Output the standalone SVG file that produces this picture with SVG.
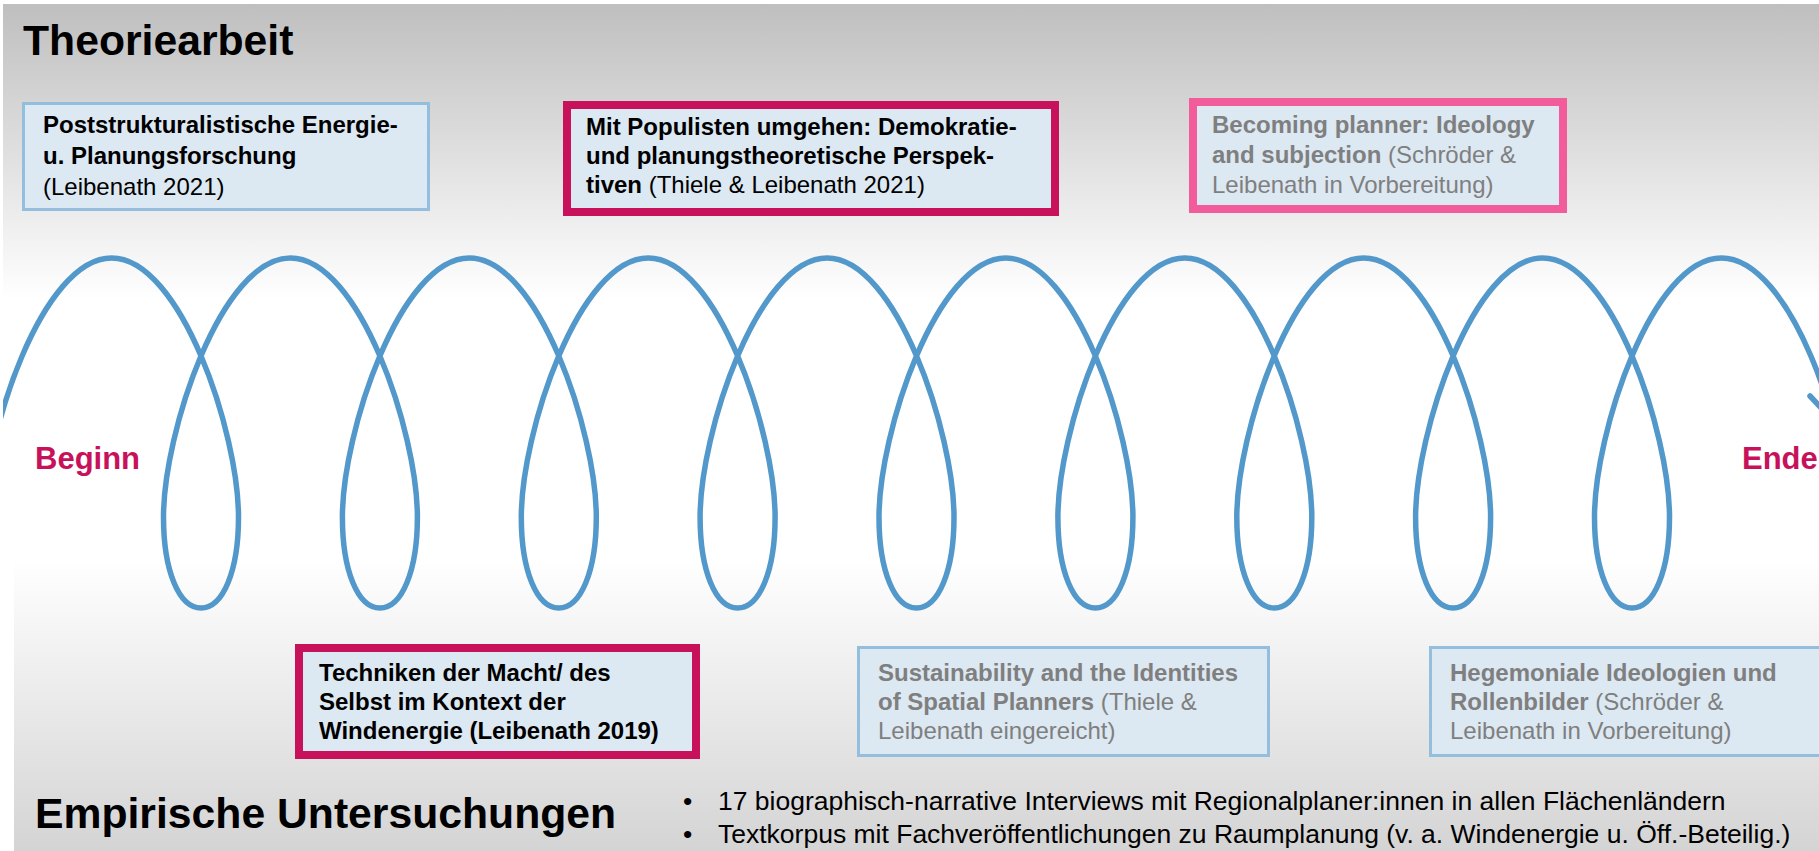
<svg xmlns="http://www.w3.org/2000/svg" width="1819" height="851" viewBox="0 0 1819 851">
<defs>
<linearGradient id="gTop" x1="0" y1="4" x2="0" y2="300" gradientUnits="userSpaceOnUse">
<stop offset="0" stop-color="#BFBFBF"/>
<stop offset="1" stop-color="#FFFFFF"/>
</linearGradient>
<linearGradient id="gBot" x1="0" y1="560" x2="0" y2="851" gradientUnits="userSpaceOnUse">
<stop offset="0" stop-color="#FFFFFF"/>
<stop offset="1" stop-color="#D4D4D4"/>
</linearGradient>
<clipPath id="clipCoil"><rect x="3" y="0" width="1816" height="851"/></clipPath>
</defs>
<style>
.txt{font-family:"Liberation Sans",Arial,Helvetica,sans-serif;font-size:24px}
.bd{font-weight:bold}
.blk{fill:#000000}
.gry{fill:#7F7F7F}
.boxBlue{fill:#DCE8F2;stroke:#93BEDE;stroke-width:3}
.boxRed{fill:#DCE8F2;stroke:#C8115B;stroke-width:8}
.boxPink{fill:#DCE8F2;stroke:#F25C9A;stroke-width:8}
.coil{fill:none;stroke:#5298CB;stroke-width:5.5;stroke-linecap:round;stroke-linejoin:round}
.head{font-family:"Liberation Sans",Arial,Helvetica,sans-serif;font-weight:bold;font-size:42.7px;fill:#000}
.mark{font-family:"Liberation Sans",Arial,Helvetica,sans-serif;font-weight:bold;font-size:31px;fill:#C8115B}
.bul{font-family:"Liberation Sans",Arial,Helvetica,sans-serif;font-size:26.5px;fill:#000}
</style>

<g id="background">
<rect x="0" y="0" width="1819" height="851" fill="#FFFFFF"/>
<rect x="3" y="4" width="1816" height="300" fill="url(#gTop)"/>
<rect x="14" y="560" width="1805" height="291" fill="url(#gBot)"/>
</g>

<g id="connectors">
<path class="coil" clip-path="url(#clipCoil)" d="M-15.4,517 C-15.4,433 42.3,258 111.6,258
C180.9,258 238.5,433 238.5,517 C238.5,571 223,608 201,608 C179,608 163.5,571 163.5,517 C163.5,433 221.1,258 290.4,258
C359.7,258 417.4,433 417.4,517 C417.4,571 401.9,608 379.9,608 C357.9,608 342.4,571 342.4,517 C342.4,433 400,258 469.3,258
C538.6,258 596.3,433 596.3,517 C596.3,571 580.8,608 558.8,608 C536.8,608 521.3,571 521.3,517 C521.3,433 578.9,258 648.2,258
C717.5,258 775.1,433 775.1,517 C775.1,571 759.6,608 737.6,608 C715.6,608 700.1,571 700.1,517 C700.1,433 757.8,258 827.1,258
C896.4,258 954,433 954,517 C954,571 938.5,608 916.5,608 C894.5,608 879,571 879,517 C879,433 936.6,258 1005.9,258
C1075.2,258 1132.9,433 1132.9,517 C1132.9,571 1117.4,608 1095.4,608 C1073.4,608 1057.9,571 1057.9,517 C1057.9,433 1115.5,258 1184.8,258
C1254.1,258 1311.8,433 1311.8,517 C1311.8,571 1296.3,608 1274.3,608 C1252.3,608 1236.8,571 1236.8,517 C1236.8,433 1294.4,258 1363.7,258
C1433,258 1490.6,433 1490.6,517 C1490.6,571 1475.1,608 1453.1,608 C1431.1,608 1415.6,571 1415.6,517 C1415.6,433 1473.3,258 1542.6,258
C1611.9,258 1669.5,433 1669.5,517 C1669.5,571 1654,608 1632,608 C1610,608 1594.5,571 1594.5,517 C1594.5,433 1652.1,258 1721.4,258
C1790.7,258 1848.4,433 1848.4,517"/>
<path class="coil" d="M1810,396 L1824,411"/>
</g>

<g id="title">
<text class="head" x="23" y="55">Theoriearbeit</text>
</g>

<g id="box1">
<rect class="boxBlue" x="23.5" y="103.5" width="405" height="106"/>
<text class="txt blk" x="43" y="133"><tspan class="bd">Poststrukturalistische Energie-</tspan></text>
<text class="txt blk" x="43" y="164"><tspan class="bd">u. Planungsforschung</tspan></text>
<text class="txt blk" x="43" y="195">(Leibenath 2021)</text>
</g>

<g id="box2">
<rect class="boxRed" x="567" y="105" width="488" height="107"/>
<text class="txt blk" x="586" y="135"><tspan class="bd">Mit Populisten umgehen: Demokratie-</tspan></text>
<text class="txt blk" x="586" y="164"><tspan class="bd">und planungstheoretische Perspek-</tspan></text>
<text class="txt blk" x="586" y="193"><tspan class="bd">tiven</tspan> (Thiele &amp; Leibenath 2021)</text>
</g>

<g id="box3">
<rect class="boxPink" x="1193" y="102" width="370" height="107"/>
<text class="txt gry" x="1212" y="133"><tspan class="bd">Becoming planner: Ideology</tspan></text>
<text class="txt gry" x="1212" y="163"><tspan class="bd">and subjection</tspan> (Schröder &amp;</text>
<text class="txt gry" x="1212" y="193">Leibenath in Vorbereitung)</text>
</g>

<g id="beginn">
<text class="mark" x="35" y="469">Beginn</text>
</g>

<g id="ende">
<text class="mark" x="1742" y="469">Ende</text>
</g>

<g id="box4">
<rect class="boxRed" x="299" y="648" width="397" height="107"/>
<text class="txt blk bd" x="319" y="681">Techniken der Macht/ des</text>
<text class="txt blk bd" x="319" y="710">Selbst im Kontext der</text>
<text class="txt blk bd" x="319" y="739">Windenergie (Leibenath 2019)</text>
</g>

<g id="box5">
<rect class="boxBlue" x="858.5" y="647.5" width="410" height="108"/>
<text class="txt gry" x="878" y="681"><tspan class="bd">Sustainability and the Identities</tspan></text>
<text class="txt gry" x="878" y="710"><tspan class="bd">of Spatial Planners</tspan> (Thiele &amp;</text>
<text class="txt gry" x="878" y="739">Leibenath eingereicht)</text>
</g>

<g id="box6">
<rect class="boxBlue" x="1430.5" y="647.5" width="390" height="108"/>
<text class="txt gry" x="1450" y="681"><tspan class="bd">Hegemoniale Ideologien und</tspan></text>
<text class="txt gry" x="1450" y="710"><tspan class="bd">Rollenbilder</tspan> (Schröder &amp;</text>
<text class="txt gry" x="1450" y="739">Leibenath in Vorbereitung)</text>
</g>

<g id="empirie">
<text class="head" x="35" y="828">Empirische Untersuchungen</text>
<text class="bul" x="683" y="810">•</text>
<text class="bul" x="718" y="810">17 biographisch-narrative Interviews mit Regionalplaner:innen in allen Flächenländern</text>
<text class="bul" x="683" y="843">•</text>
<text class="bul" x="718" y="843">Textkorpus mit Fachveröffentlichungen zu Raumplanung (v. a. Windenergie u. Öff.-Beteilig.)</text>
</g>
</svg>
